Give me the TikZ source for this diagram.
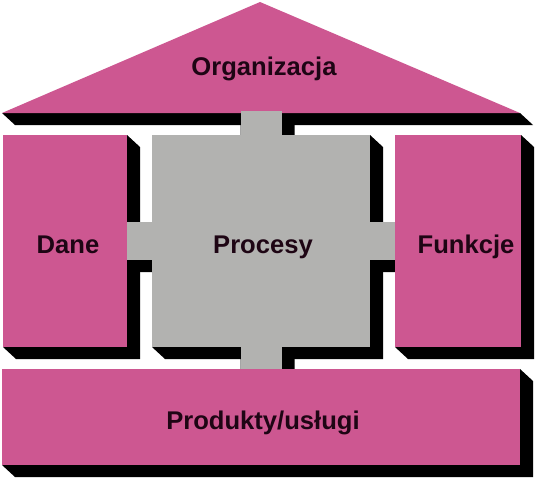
\documentclass[tikz,border=0pt]{standalone}
\usepackage{fontspec}
\setmainfont{Liberation Sans}
\usetikzlibrary{positioning,calc,backgrounds}
\definecolor{roz}{RGB}{205,87,145}
\definecolor{popiel}{RGB}{178,178,176}
\definecolor{napis}{RGB}{30,5,20}
\newcommand{\cien}[1]{%
  \fill[black] (#1.north west) -- (#1.north east) -- ($(#1.north east)+(13,12)$)
    -- ($(#1.south east)+(13,12)$) -- ($(#1.south west)+(13,12)$) -- (#1.south west) -- cycle;}

\begin{document}
\begin{tikzpicture}[x=1pt,y=-1pt,
  blok/.style={rectangle,inner sep=0pt,outer sep=0pt,text=napis,
    font=\bfseries\fontsize{25.6}{30}\selectfont,text height=24pt,text depth=0pt},
  rozblok/.style={blok,fill=roz},
  szaryblok/.style={blok,fill=popiel}]

\useasboundingbox (0,0) rectangle (552,496);

\coordinate (DL) at (2,113);
\coordinate (DP) at (520,113);
\coordinate (DS) at (260,2);
\fill[roz] (DL) -- (DS) -- (DP) -- cycle;
\node[anchor=base,text=napis,font=\bfseries\fontsize{25.6}{30}\selectfont] (O) at (264,75) {Organizacja};

\node[rozblok,minimum width=124pt,minimum height=212pt] (D) at (65,241) {\hspace*{6pt}Dane};
\node[szaryblok,minimum width=218pt,minimum height=212pt,right=25pt of D] (P) {};
\node[rozblok,minimum width=126pt,minimum height=212pt,right=25pt of P] (F) {\hspace*{16pt}Funkcje};
\node[szaryblok,minimum width=41pt,minimum height=22pt,above=0pt of P] (T) {};
\node[szaryblok,minimum width=41pt,minimum height=22pt,below=0pt of P] (B) {};
\node[szaryblok,minimum width=268pt,minimum height=38pt] (A) at (P.center) {};
\node[blok,minimum width=218pt,minimum height=212pt] (PT) at (P.center) {\hspace*{4pt}Procesy};
\node[rozblok,minimum width=518pt,minimum height=96pt,below=22pt of P] (R) {\hspace*{4pt}Produkty/usługi};

\begin{pgfonlayer}{background}
\fill[black] (DL) -- (DP) -- ($(DP)+(13,12)$) -- ($(DL)+(13,12)$) -- cycle;
\foreach \n in {D,P,F,T,B,A,R} {\cien{\n}}
\end{pgfonlayer}
\end{tikzpicture}
\end{document}
